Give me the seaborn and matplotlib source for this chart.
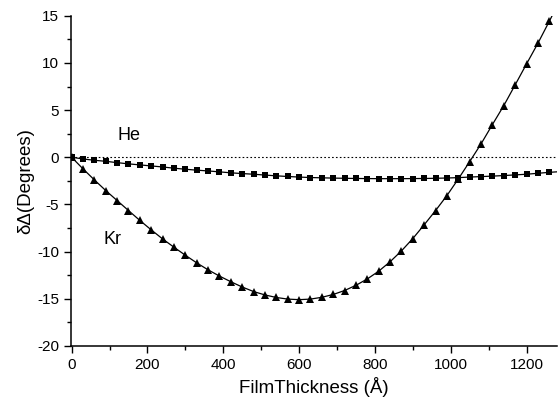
import matplotlib
matplotlib.use("Agg")
import matplotlib.pyplot as plt
from matplotlib.ticker import MultipleLocator
import seaborn as sns
import pandas as pd

# film thickness in Angstrom, one marker every 30 A
thickness = [0, 30, 60, 90, 120, 150, 180, 210, 240, 270, 300, 330, 360, 390,
             420, 450, 480, 510, 540, 570, 600, 630, 660, 690, 720, 750, 780,
             810, 840, 870, 900, 930, 960, 990, 1020, 1050, 1080, 1110, 1140,
             1170, 1200, 1230, 1260, 1290]

kr_delta = [0, -1.23, -2.40, -3.53, -4.59, -5.65, -6.70, -7.70, -8.66, -9.54,
            -10.39, -11.20, -11.94, -12.60, -13.20, -13.76, -14.24, -14.60,
            -14.87, -15.04, -15.10, -15.04, -14.85, -14.55, -14.13, -13.58,
            -12.90, -12.08, -11.08, -9.93, -8.62, -7.16, -5.65, -4.06, -2.30,
            -0.46, 1.42, 3.47, 5.48, 7.68, 9.90, 12.09, 14.42, 16.8]

he_delta = [0, -0.18, -0.32, -0.43, -0.57, -0.70, -0.81, -0.92, -1.03, -1.16,
            -1.27, -1.37, -1.45, -1.55, -1.65, -1.73, -1.80, -1.89, -1.97,
            -2.04, -2.10, -2.15, -2.18, -2.21, -2.23, -2.25, -2.26, -2.27,
            -2.27, -2.27, -2.26, -2.25, -2.23, -2.20, -2.16, -2.10, -2.05,
            -2.00, -1.94, -1.87, -1.80, -1.70, -1.60, -1.52]

sns.set_style("ticks")
plt.rcParams["font.family"] = ["Liberation Sans", "DejaVu Sans"]
plt.rcParams["axes.unicode_minus"] = False
for key in ("text.color", "axes.labelcolor", "xtick.color", "ytick.color",
            "axes.edgecolor"):
    plt.rcParams[key] = "black"

df = pd.DataFrame({"t": thickness, "Kr": kr_delta, "He": he_delta})

fig = plt.figure(figsize=(5.58, 4.05), dpi=100)
ax = fig.add_axes([0.127, 0.146, 0.871, 0.815])

ax.axhline(0, color="black", linestyle=(0, (1.5, 2)), linewidth=0.8, zorder=1)

sns.lineplot(data=df, x="t", y="Kr", ax=ax, color="black", linewidth=0.9,
             marker="^", markersize=6, markeredgewidth=0, zorder=3)
sns.lineplot(data=df, x="t", y="He", ax=ax, color="black", linewidth=0.9,
             marker="s", markersize=4.5, markeredgewidth=0, zorder=3)

ax.set_xlim(-2, 1280)
ax.set_ylim(-20, 15)
ax.xaxis.set_major_locator(MultipleLocator(200))
ax.xaxis.set_minor_locator(MultipleLocator(100))
ax.yaxis.set_major_locator(MultipleLocator(5))
ax.yaxis.set_minor_locator(MultipleLocator(2.5))
ax.tick_params(which="major", length=5, width=1, labelsize=11, direction="out")
ax.tick_params(which="minor", length=3, width=1, direction="out")

for side in ("top", "right"):
    ax.spines[side].set_visible(False)
for side in ("left", "bottom"):
    ax.spines[side].set_linewidth(1.1)

ax.set_xlabel("FilmThickness (Å)", fontsize=13.5, labelpad=4)
ax.set_ylabel("δΔ(Degrees)", fontsize=13.5, labelpad=2)

ax.text(152, 2.3, "He", fontsize=13, ha="center", va="center")
ax.text(108, -8.7, "Kr", fontsize=13, ha="center", va="center")

fig.savefig("out.png", dpi=100)
